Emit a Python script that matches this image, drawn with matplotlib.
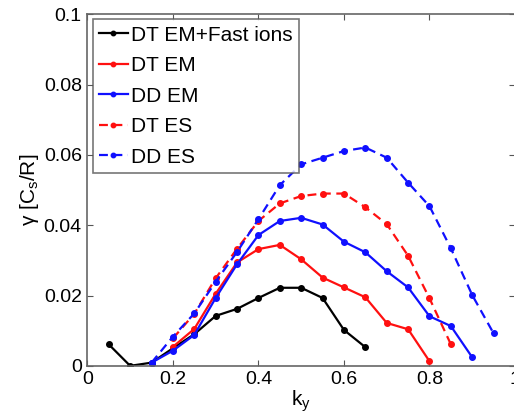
import matplotlib
matplotlib.use("Agg")
import matplotlib.pyplot as plt

plt.rcParams['font.family'] = ['Liberation Sans', 'DejaVu Sans']
plt.rcParams['mathtext.fontset'] = 'custom'
plt.rcParams['mathtext.rm'] = 'Liberation Sans'
plt.rcParams['mathtext.it'] = 'Liberation Sans'

ky_black = [0.05, 0.1, 0.15, 0.2, 0.25, 0.3, 0.35, 0.4, 0.45, 0.5, 0.55, 0.6, 0.65]
g_black = [0.0061, 0.0, 0.0009, 0.005, 0.009, 0.0142, 0.0162, 0.0193, 0.0222, 0.0222, 0.0193, 0.0102, 0.0053]

ky_dtem = [0.2, 0.25, 0.3, 0.35, 0.4, 0.45, 0.5, 0.55, 0.6, 0.65, 0.7, 0.75, 0.8]
g_dtem = [0.0054, 0.0105, 0.0205, 0.0294, 0.0332, 0.0344, 0.0303, 0.0251, 0.0223, 0.0195, 0.0122, 0.0104, 0.0013]

ky_ddem = [0.15, 0.2, 0.25, 0.3, 0.35, 0.4, 0.45, 0.5, 0.55, 0.6, 0.65, 0.7, 0.75, 0.8, 0.85, 0.9]
g_ddem = [0.0009, 0.0043, 0.0088, 0.0193, 0.0289, 0.0372, 0.0412, 0.0421, 0.0402, 0.0353, 0.0323, 0.0269, 0.0223, 0.0141, 0.0113, 0.0024]

ky_dtes = [0.2, 0.25, 0.3, 0.35, 0.4, 0.45, 0.5, 0.55, 0.6, 0.65, 0.7, 0.75, 0.8, 0.85]
g_dtes = [0.0078, 0.0148, 0.0249, 0.0333, 0.0412, 0.0462, 0.0483, 0.049, 0.049, 0.0451, 0.0403, 0.0313, 0.0192, 0.0061]

ky_ddes = [0.15, 0.2, 0.25, 0.3, 0.35, 0.4, 0.45, 0.5, 0.55, 0.6, 0.65, 0.7, 0.75, 0.8, 0.85, 0.9, 0.95]
g_ddes = [0.0009, 0.0083, 0.0149, 0.0239, 0.0324, 0.0417, 0.0514, 0.0573, 0.0592, 0.0611, 0.0621, 0.0592, 0.0521, 0.0454, 0.0334, 0.0201, 0.0092]

labels = ['DT EM+Fast ions', 'DT EM', 'DD EM', 'DT ES', 'DD ES']

fig = plt.figure(figsize=(5.14, 4.2), dpi=100)
ax = fig.add_axes([0.170, 0.129, 0.832, 0.837])

lw = 1.6
ms = 8
ax.plot(ky_black, g_black, '-', color='black', marker='.', markersize=ms, lw=lw, label=labels[0])
ax.plot(ky_dtem, g_dtem, '-', color='#ff1010', marker='.', markersize=ms, lw=lw, label=labels[1])
ax.plot(ky_ddem, g_ddem, '-', color='#1010ff', marker='.', markersize=ms, lw=lw, label=labels[2])
ax.plot(ky_dtes, g_dtes, '--', color='#ff1010', marker='.', markersize=ms, lw=lw, dashes=(4, 2.5), label=labels[3])
ax.plot(ky_ddes, g_ddes, '--', color='#1010ff', marker='.', markersize=ms, lw=lw, dashes=(4, 2.5), label=labels[4])

ax.set_xlim(0, 1)
ax.set_ylim(0, 0.1)
ax.set_xticks([0, 0.2, 0.4, 0.6, 0.8, 1.0])
ax.set_xticklabels(['0', '0.2', '0.4', '0.6', '0.8', '1'])
ax.set_yticks([0, 0.02, 0.04, 0.06, 0.08, 0.1])
ax.set_yticklabels(['0', '0.02', '0.04', '0.06', '0.08', '0.1'])
ax.tick_params(direction='in', top=True, right=True, labelsize=14, length=4, color='#555555', pad=4)
for s in ax.spines.values():
    s.set_color('#666666')
    s.set_linewidth(1.2)

ax.set_xlabel(r'k$_\mathregular{y}$', fontsize=15, labelpad=0)
ax.set_ylabel(r'γ [C$_\mathregular{s}$/R]', fontsize=15, labelpad=2)

leg = ax.legend(loc='upper left', fontsize=15, frameon=True, fancybox=False,
                edgecolor='#555555', handlelength=1.4, handletextpad=0.15,
                borderaxespad=0.25, borderpad=0.3, labelspacing=0.55, markerscale=0.8)
leg.get_frame().set_linewidth(1.2)

fig.savefig('out.png', dpi=100)
